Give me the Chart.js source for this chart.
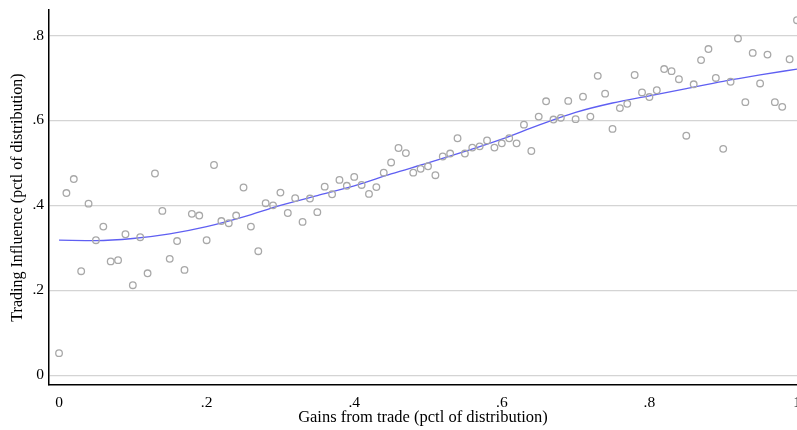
<!DOCTYPE html>
<html>
<head>
<meta charset="utf-8">
<script src="https://cdn.jsdelivr.net/npm/chart.js@4.4.1/dist/chart.umd.min.js"></script>
<style>
    html, body { margin: 0; padding: 0; background: #fff; overflow: hidden; }
    #wrap { width: 797px; height: 430px; position: relative; }
    canvas { display: block; }
</style>
</head>
<body>
<div id="wrap"><canvas id="scatterChart"></canvas></div>
<script>
// binned scatter: x = 0, .01, ... 1
const influence = [
    0.052, 0.429, 0.462, 0.245, 0.404, 0.318, 0.350, 0.268, 0.271, 0.332,
    0.212, 0.325, 0.240, 0.475, 0.387, 0.274, 0.316, 0.248, 0.380, 0.376,
    0.318, 0.495, 0.363, 0.358, 0.376, 0.442, 0.350, 0.292, 0.405, 0.400,
    0.430, 0.382, 0.417, 0.361, 0.416, 0.384, 0.444, 0.426, 0.460, 0.446,
    0.467, 0.448, 0.427, 0.443, 0.477, 0.501, 0.535, 0.523, 0.477, 0.486,
    0.492, 0.471, 0.515, 0.522, 0.558, 0.522, 0.536, 0.539, 0.553, 0.536,
    0.546, 0.558, 0.546, 0.590, 0.528, 0.609, 0.645, 0.602, 0.606, 0.646,
    0.603, 0.656, 0.609, 0.705, 0.663, 0.580, 0.629, 0.639, 0.707, 0.666,
    0.655, 0.671, 0.721, 0.716, 0.697, 0.564, 0.685, 0.742, 0.768, 0.700,
    0.533, 0.691, 0.793, 0.643, 0.759, 0.687, 0.755, 0.643, 0.632, 0.744,
    0.836
];
const gains = influence.map((v, i) => i / 100);

// smoothed fit
const fitX = [0, 0.05, 0.1, 0.15, 0.2, 0.25, 0.3, 0.35, 0.4, 0.45, 0.5,
              0.55, 0.6, 0.65, 0.7, 0.75, 0.8, 0.85, 0.9, 0.95, 1];
const fitY = [0.318, 0.317, 0.322, 0.333, 0.350, 0.373, 0.400, 0.423, 0.446, 0.474, 0.500,
              0.527, 0.556, 0.589, 0.619, 0.641, 0.658, 0.675, 0.692, 0.707, 0.721];

const xTicks = [0, 0.2, 0.4, 0.6, 0.8, 1];
const yTicks = [0, 0.2, 0.4, 0.6, 0.8];

function fmt(v) {
    if (v === 0) return '0';
    if (v === 1) return '1';
    return '.' + Math.round(v * 10);
}

document.addEventListener('DOMContentLoaded', function () {
    const ctx = document.getElementById('scatterChart').getContext('2d');
    const serif = 'Liberation Serif';

    new Chart(ctx, {
        type: 'scatter',
        data: {
            datasets: [{
                label: 'bins',
                data: gains.map((x, i) => ({ x: x, y: influence[i] })),
                pointStyle: 'circle',
                pointRadius: 3.3,
                pointBorderWidth: 1.3,
                pointBorderColor: '#a8a8a8',
                pointBackgroundColor: 'rgba(0,0,0,0)',
                showLine: false
            }, {
                label: 'fit',
                type: 'line',
                data: fitX.map((x, i) => ({ x: x, y: fitY[i] })),
                borderColor: '#5f5ff2',
                borderWidth: 1.3,
                pointRadius: 0,
                cubicInterpolationMode: 'monotone',
                fill: false
            }]
        },
        options: {
            responsive: true,
            maintainAspectRatio: false,
            animation: false,
            layout: { autoPadding: false, padding: { top: 10, right: 0, left: 0, bottom: 0 } },
            plugins: {
                legend: { display: false },
                tooltip: { enabled: false }
            },
            scales: {
                x: {
                    type: 'linear',
                    min: -0.0136,
                    max: 1,
                    afterBuildTicks: function (scale) {
                        scale.ticks = xTicks.map(v => ({ value: v }));
                    },
                    afterFit: function (scale) {
                        scale.height = 45;
                        scale.paddingLeft = 0;
                        scale.paddingRight = 0;
                    },
                    grid: { display: false, drawTicks: false },
                    border: { display: true, color: '#000', width: 1.5 },
                    ticks: {
                        padding: 9,
                        color: '#000',
                        maxRotation: 0,
                        font: { family: serif, size: 15.5 },
                        callback: v => fmt(v)
                    },
                    title: {
                        display: true,
                        text: 'Gains from trade (pctl of distribution)',
                        color: '#000',
                        padding: { top: 0, bottom: 2 },
                        font: { family: serif, size: 16.5 }
                    }
                },
                y: {
                    type: 'linear',
                    min: -0.023,
                    max: 0.86,
                    afterBuildTicks: function (scale) {
                        scale.ticks = yTicks.map(v => ({ value: v }));
                    },
                    afterFit: function (scale) {
                        scale.width = 49;
                        scale.paddingTop = 0;
                        scale.paddingBottom = 0;
                    },
                    grid: { color: '#d4d4d4', lineWidth: 1.3, drawTicks: false },
                    border: { display: true, color: '#000', width: 1.5 },
                    ticks: {
                        padding: 5,
                        color: '#000',
                        font: { family: serif, size: 15.5 },
                        callback: v => fmt(v)
                    },
                    title: {
                        display: true,
                        text: 'Trading Influence (pctl of distribution)',
                        color: '#000',
                        padding: { top: 8, bottom: 0 },
                        font: { family: serif, size: 16 }
                    }
                }
            }
        }
    });
});
</script>
</body>
</html>
